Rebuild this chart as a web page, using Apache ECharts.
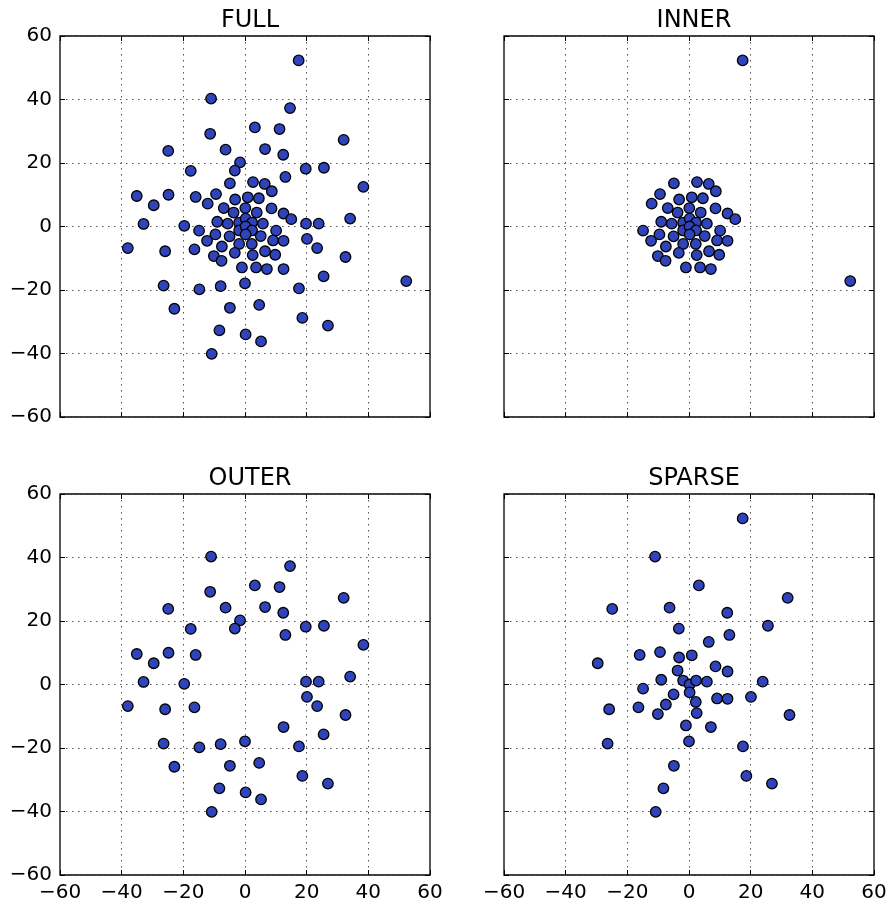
<!DOCTYPE html>
<html>
<head>
<meta charset="utf-8">
<script src="https://cdn.jsdelivr.net/npm/echarts@6/dist/echarts.min.js"></script>
<style>
  html, body { margin: 0; padding: 0; background: #ffffff; }
  #chart { width: 893px; height: 905px; }
</style>
</head>
<body>
<div id="chart"></div>
<script>
// Panel names, in reading order (top-left, top-right, bottom-left, bottom-right)
const panelTitles = ['FULL', 'INNER', 'OUTER', 'SPARSE'];

// Shared tick values for both axes of every panel
const tickValues = [-60, -40, -20, 0, 20, 40, 60];

// Complete point set
const fullPoints = [
  [-11, 40.3], [-11.3, 29.2], [-24.9, 23.8], [-6.3, 24.2], [-1.6, 20.2], [-3.3, 17.6], [-17.6, 17.5],
  [-35.1, 9.6], [-24.8, 10], [-29.6, 6.7], [-16, 9.3], [-32.9, 0.8], [-19.7, 0.2], [-38, -6.8],
  [-25.9, -7.8], [-16.4, -7.2], [-26.4, -18.6], [-14.8, -19.8], [-7.9, -18.8], [0, -17.9],
  [-22.9, -25.9], [-4.9, -25.6], [-8.3, -32.7], [0.2, -34], [-10.8, -40.1],
  [14.6, 37.3], [3.2, 31.2], [11.2, 30.7], [32, 27.3], [6.5, 24.4], [12.4, 22.6], [19.7, 18.2],
  [25.6, 18.5], [13.1, 15.6], [38.4, 12.5], [34.1, 2.5], [19.8, 0.9], [23.9, 0.9], [20.1, -3.9],
  [23.4, -6.8], [32.6, -9.6], [12.5, -13.4], [25.5, -15.7], [17.5, -19.5], [4.6, -24.7],
  [18.6, -28.8], [26.9, -31.2], [5.2, -36.2],
  [-4.9, 13.6], [2.6, 14], [6.4, 13.4], [8.7, 11.1], [-9.4, 10.2], [-12.1, 7.2], [-3.2, 8.5],
  [0.9, 9.2], [4.5, 8.9], [-6.9, 5.8], [0.1, 5.8], [8.6, 5.7], [-3.7, 4.4], [3.8, 4.4],
  [12.5, 4.1], [15, 2.3], [-9, 1.5], [-5.6, 0.9], [-1.9, 1.25], [0.2, 2.5], [2.3, 1.25],
  [5.8, 0.9], [-14.9, -1.3], [-1.9, -1.25], [0.2, 0], [2.3, -1.25], [10.1, -1.3], [-9.6, -2.5],
  [-5, -3.1], [0.2, -2.5], [5.1, -3], [-12.3, -4.5], [-1.9, -5.5], [2.2, -5.5], [9.1, -4.4],
  [12.5, -4.5], [-7.5, -6.3], [-3.3, -8.3], [6.5, -7.8], [9.8, -8.9], [2.5, -9], [-10.1, -9.3],
  [-7.6, -10.8], [-1, -12.9], [3.6, -12.9], [7.1, -13.4],
  [17.4, 52.3], [52.3, -17.2]
];

// Central cluster plus the two far points
const innerPoints = [
  [-4.9, 13.6], [2.6, 14], [6.4, 13.4], [8.7, 11.1], [-9.4, 10.2], [-12.1, 7.2], [-3.2, 8.5],
  [0.9, 9.2], [4.5, 8.9], [-6.9, 5.8], [0.1, 5.8], [8.6, 5.7], [-3.7, 4.4], [3.8, 4.4],
  [12.5, 4.1], [15, 2.3], [-9, 1.5], [-5.6, 0.9], [-1.9, 1.25], [0.2, 2.5], [2.3, 1.25],
  [5.8, 0.9], [-14.9, -1.3], [-1.9, -1.25], [0.2, 0], [2.3, -1.25], [10.1, -1.3], [-9.6, -2.5],
  [-5, -3.1], [0.2, -2.5], [5.1, -3], [-12.3, -4.5], [-1.9, -5.5], [2.2, -5.5], [9.1, -4.4],
  [12.5, -4.5], [-7.5, -6.3], [-3.3, -8.3], [6.5, -7.8], [9.8, -8.9], [2.5, -9], [-10.1, -9.3],
  [-7.6, -10.8], [-1, -12.9], [3.6, -12.9], [7.1, -13.4],
  [17.4, 52.3], [52.3, -17.2]
];

// Ring of points outside the central cluster
const outerPoints = [
  [-11, 40.3], [-11.3, 29.2], [-24.9, 23.8], [-6.3, 24.2], [-1.6, 20.2], [-3.3, 17.6], [-17.6, 17.5],
  [-35.1, 9.6], [-24.8, 10], [-29.6, 6.7], [-16, 9.3], [-32.9, 0.8], [-19.7, 0.2], [-38, -6.8],
  [-25.9, -7.8], [-16.4, -7.2], [-26.4, -18.6], [-14.8, -19.8], [-7.9, -18.8], [0, -17.9],
  [-22.9, -25.9], [-4.9, -25.6], [-8.3, -32.7], [0.2, -34], [-10.8, -40.1],
  [14.6, 37.3], [3.2, 31.2], [11.2, 30.7], [32, 27.3], [6.5, 24.4], [12.4, 22.6], [19.7, 18.2],
  [25.6, 18.5], [13.1, 15.6], [38.4, 12.5], [34.1, 2.5], [19.8, 0.9], [23.9, 0.9], [20.1, -3.9],
  [23.4, -6.8], [32.6, -9.6], [12.5, -13.4], [25.5, -15.7], [17.5, -19.5], [4.6, -24.7],
  [18.6, -28.8], [26.9, -31.2], [5.2, -36.2]
];

// Thinned-out selection
const sparsePoints = [
  [-11, 40.3], [-24.9, 23.8], [-6.3, 24.2], [-3.3, 17.6], [-16, 9.3], [-9.4, 10.2], [-29.6, 6.7],
  [-3.2, 8.5], [0.9, 9.2], [-3.7, 4.4], [-9, 1.5], [-1.9, 1.25], [0.2, 0], [-14.9, -1.3],
  [-5, -3.1], [-7.5, -6.3], [-16.4, -7.2], [-25.9, -7.8], [-10.1, -9.3], [-1, -12.9],
  [-26.4, -18.6], [0, -17.9], [-4.9, -25.6], [-8.3, -32.7], [-10.8, -40.1],
  [17.4, 52.3], [3.2, 31.2], [32, 27.3], [12.4, 22.6], [25.6, 18.5], [13.1, 15.6], [6.4, 13.4],
  [8.6, 5.7], [12.5, 4.1], [2.3, 1.25], [5.8, 0.9], [0.2, -2.5], [2.2, -5.5], [2.5, -9],
  [9.1, -4.4], [12.5, -4.5], [20.1, -3.9], [23.9, 0.9], [32.6, -9.6], [7.1, -13.4],
  [17.5, -19.5], [18.6, -28.8], [26.9, -31.2]
];

const panelData = [fullPoints, innerPoints, outerPoints, sparsePoints];

// ---- layout & styling ----
const FONT = 'DejaVu Sans';
const frames = [
  { left: 60, top: 36 },
  { left: 504, top: 36 },
  { left: 60, top: 494 },
  { left: 504, top: 494 }
];
const FRAME_W = 370, FRAME_H = 381;

const axisMin = tickValues[0];
const axisMax = tickValues[tickValues.length - 1];
const axisStep = tickValues[1] - tickValues[0];
const fmt = v => String(v).replace('-', '\u2212');

const tickStyle = { show: true, inside: true, length: 5, lineStyle: { color: '#000', width: 1 } };
const grid = [], xAxis = [], yAxis = [], series = [], title = [];

frames.forEach((f, i) => {
  const showX = i >= 2;           // bottom row carries x labels
  const showY = i % 2 === 0;      // left column carries y labels
  grid.push({
    left: f.left, top: f.top, width: FRAME_W, height: FRAME_H,
    show: true, borderColor: '#000', borderWidth: 1.3, backgroundColor: 'transparent'
  });
  title.push({
    text: panelTitles[i],
    left: f.left + FRAME_W / 2, top: f.top - 32, textAlign: 'center',
    textStyle: { fontFamily: FONT, fontSize: 24, fontWeight: 'normal', color: '#000' }
  });
  const common = {
    type: 'value', min: axisMin, max: axisMax, interval: axisStep,
    axisLine: { show: false, onZero: false },
    axisTick: tickStyle,
    splitLine: { show: true, lineStyle: { color: '#555', width: 1, type: [1.5, 4.5] } }
  };
  // main axes (bottom / left)
  xAxis.push(Object.assign({}, common, {
    gridIndex: i, position: 'bottom',
    axisLabel: { show: showX, margin: 8, fontFamily: FONT, fontSize: 20, color: '#000', formatter: fmt }
  }));
  yAxis.push(Object.assign({}, common, {
    gridIndex: i, position: 'left',
    axisLabel: { show: showY, margin: 8, fontFamily: FONT, fontSize: 20, color: '#000', formatter: fmt }
  }));
  series.push({
    type: 'scatter', xAxisIndex: i, yAxisIndex: i,
    data: panelData[i], symbol: 'circle', symbolSize: 10.5,
    itemStyle: { color: '#2f44bb', borderColor: '#000', borderWidth: 1.3, opacity: 1 },
    emphasis: { disabled: true }, animation: false, silent: true
  });
});

// mirrored ticks on the top and right edges of each frame
frames.forEach((f, i) => {
  const mirror = {
    type: 'value', gridIndex: i, min: axisMin, max: axisMax, interval: axisStep,
    axisLine: { show: false, onZero: false }, axisLabel: { show: false }, splitLine: { show: false },
    axisTick: tickStyle
  };
  xAxis.push(Object.assign({}, mirror, { position: 'top' }));
  yAxis.push(Object.assign({}, mirror, { position: 'right' }));
});

const chart = echarts.init(document.getElementById('chart'), null, { renderer: 'canvas' });
chart.setOption({
  animation: false,
  backgroundColor: '#ffffff',
  title, grid, xAxis, yAxis, series
});
</script>
</body>
</html>
